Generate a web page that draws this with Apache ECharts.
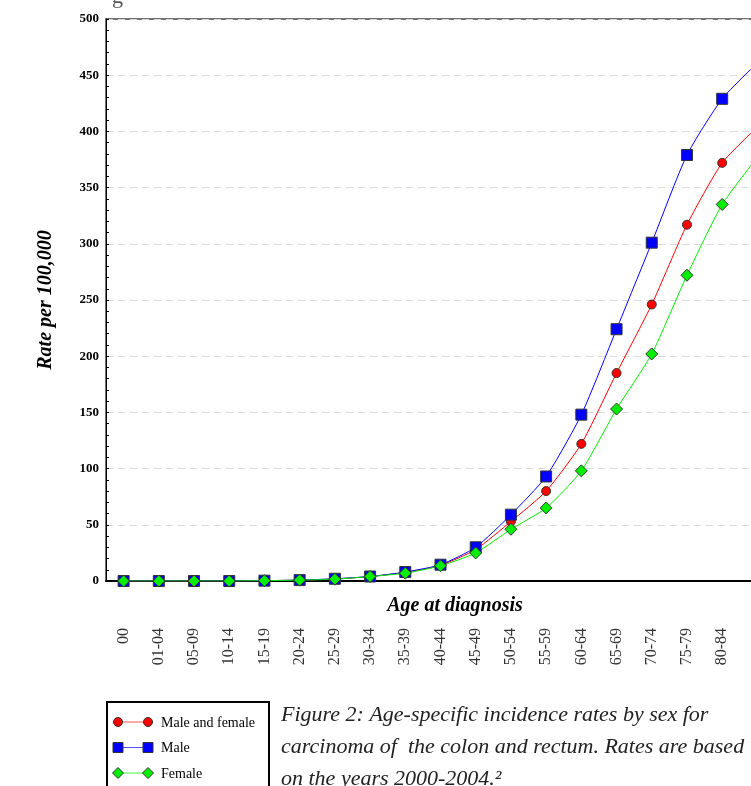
<!DOCTYPE html>
<html>
<head>
<meta charset="utf-8">
<script src="https://cdn.jsdelivr.net/npm/echarts@6/dist/echarts.min.js"></script>
<style>
  html, body { margin: 0; padding: 0; background: #fff; overflow: hidden; }
  #chart { width: 782px; height: 786px; }
</style>
</head>
<body>
<div id="chart"></div>
<script>
const ageGroups = ['00', '01-04', '05-09', '10-14', '15-19', '20-24', '25-29', '30-34', '35-39',
  '40-44', '45-49', '50-54', '55-59', '60-64', '65-69', '70-74', '75-79', '80-84', '85+']
const bothSexes = [0, 0, 0, 0, 0.3, 0.8, 1.8, 4, 7.5, 14, 28, 53, 80, 122, 185, 246, 317, 372, 404]
const male = [0, 0, 0, 0, 0.3, 0.8, 2, 4, 8, 14.5, 30, 59, 93, 148, 224, 301, 379, 429, 461]
const female = [0, 0, 0, 0, 0.3, 0.8, 1.6, 4, 7, 13.5, 25, 46, 65, 98, 153, 202, 272, 335, 377]
const yTicks = [0, 50, 100, 150, 200, 250, 300, 350, 400, 450, 500]

const serif = '"Liberation Serif", "DejaVu Serif", serif'
const chart = echarts.init(document.getElementById('chart'))

const makeSeries = (name, data, symbol, size, color) => ({
  name,
  type: 'line',
  data,
  smooth: 0.2,
  symbol,
  symbolSize: size,
  showAllSymbol: true,
  lineStyle: { width: 1, color },
  itemStyle: { color, borderColor: '#333', borderWidth: 1 },
  emphasis: { disabled: true },
  animation: false
})

// legend box drawn by hand: line with a marker at both ends
const legendRows = [
  { label: 'Male and female', color: '#ff0000', line: '#ff5050', shape: 'circle', size: 9 },
  { label: 'Male', color: '#0000ff', line: '#5050ff', shape: 'rect', size: 10 },
  { label: 'Female', color: '#00ee00', line: '#40ff40', shape: 'diamond', size: 11 }
]
const legendItems = [{
  type: 'rect',
  shape: { x: 107, y: 702, width: 162, height: 100 },
  style: { fill: '#fff', stroke: '#000', lineWidth: 2 }
}]
legendRows.forEach((r, i) => {
  const y = 722 + i * 25.5
  legendItems.push({ type: 'line', shape: { x1: 118, y1: y, x2: 148, y2: y }, style: { stroke: r.line, lineWidth: 1 } })
  ;[118, 148].forEach(x => {
    let el
    if (r.shape === 'circle') {
      el = { type: 'circle', shape: { cx: x, cy: y, r: r.size / 2 } }
    } else if (r.shape === 'rect') {
      el = { type: 'rect', shape: { x: x - r.size / 2, y: y - r.size / 2, width: r.size, height: r.size } }
    } else {
      const h = r.size / 2
      el = { type: 'polygon', shape: { points: [[x, y - h], [x + h, y], [x, y + h], [x - h, y]] } }
    }
    el.style = { fill: r.color, stroke: '#333', lineWidth: 1 }
    legendItems.push(el)
  })
  legendItems.push({
    type: 'text', x: 161, y: y + 1,
    style: { text: r.label, font: '14px ' + serif, fill: '#000', verticalAlign: 'middle' }
  })
})

chart.setOption({
  animation: false,
  grid: {
    left: 106, right: 7, top: 19, bottom: 205,
    show: true, borderColor: '#444', borderWidth: 1.5, backgroundColor: 'transparent'
  },
  xAxis: {
    type: 'category',
    data: ageGroups,
    boundaryGap: true,
    axisLine: { lineStyle: { color: '#000', width: 2 } },
    axisTick: { alignWithLabel: true, inside: true, length: 4, lineStyle: { color: '#000' } },
    axisLabel: {
      rotate: 90, margin: 47, interval: 0,
      color: '#333', fontFamily: serif, fontSize: 16
    },
    splitLine: { show: false }
  },
  yAxis: {
    type: 'value',
    min: 0, max: 500, interval: 50,
    axisLine: { show: true, lineStyle: { color: '#000', width: 1 } },
    axisTick: { show: true, inside: true, length: 3, lineStyle: { color: '#000' } },
    minorTick: { show: true, splitNumber: 5, length: 3, lineStyle: { color: '#000' } },
    axisLabel: {
      margin: 7, color: '#000', fontFamily: serif, fontSize: 13, fontWeight: 'bold',
      formatter: v => (yTicks.includes(v) ? String(v) : '')
    },
    splitLine: { lineStyle: { type: [7, 5], color: '#d8d8d8', width: 1 } }
  },
  series: [
    makeSeries('Male and female', bothSexes, 'circle', 9, '#ff0000'),
    makeSeries('Male', male, 'rect', 11, '#0000ff'),
    makeSeries('Female', female, 'diamond', 12, '#00ee00')
  ],
  graphic: [
    {
      type: 'text', x: 112, y: -14,
      style: { text: 'g', font: '22px ' + serif, fill: '#555' }
    },
    {
      type: 'text', x: 46, y: 300, rotation: Math.PI / 2,
      style: {
        text: 'Rate per 100,000', font: 'italic bold 20px ' + serif, fill: '#000',
        align: 'center', verticalAlign: 'middle'
      }
    },
    {
      type: 'text', x: 455, y: 606,
      style: {
        text: 'Age at diagnosis', font: 'italic bold 20px ' + serif, fill: '#000',
        align: 'center', verticalAlign: 'middle'
      }
    },
    {
      type: 'text', x: 281, y: 699,
      style: {
        text: 'Figure 2: Age-specific incidence rates by sex for\ncarcinoma of  the colon and rectum. Rates are based\non the years 2000-2004.²',
        font: 'italic 22px ' + serif, lineHeight: 32, fill: '#222'
      }
    },
    ...legendItems
  ]
})
</script>
</body>
</html>
